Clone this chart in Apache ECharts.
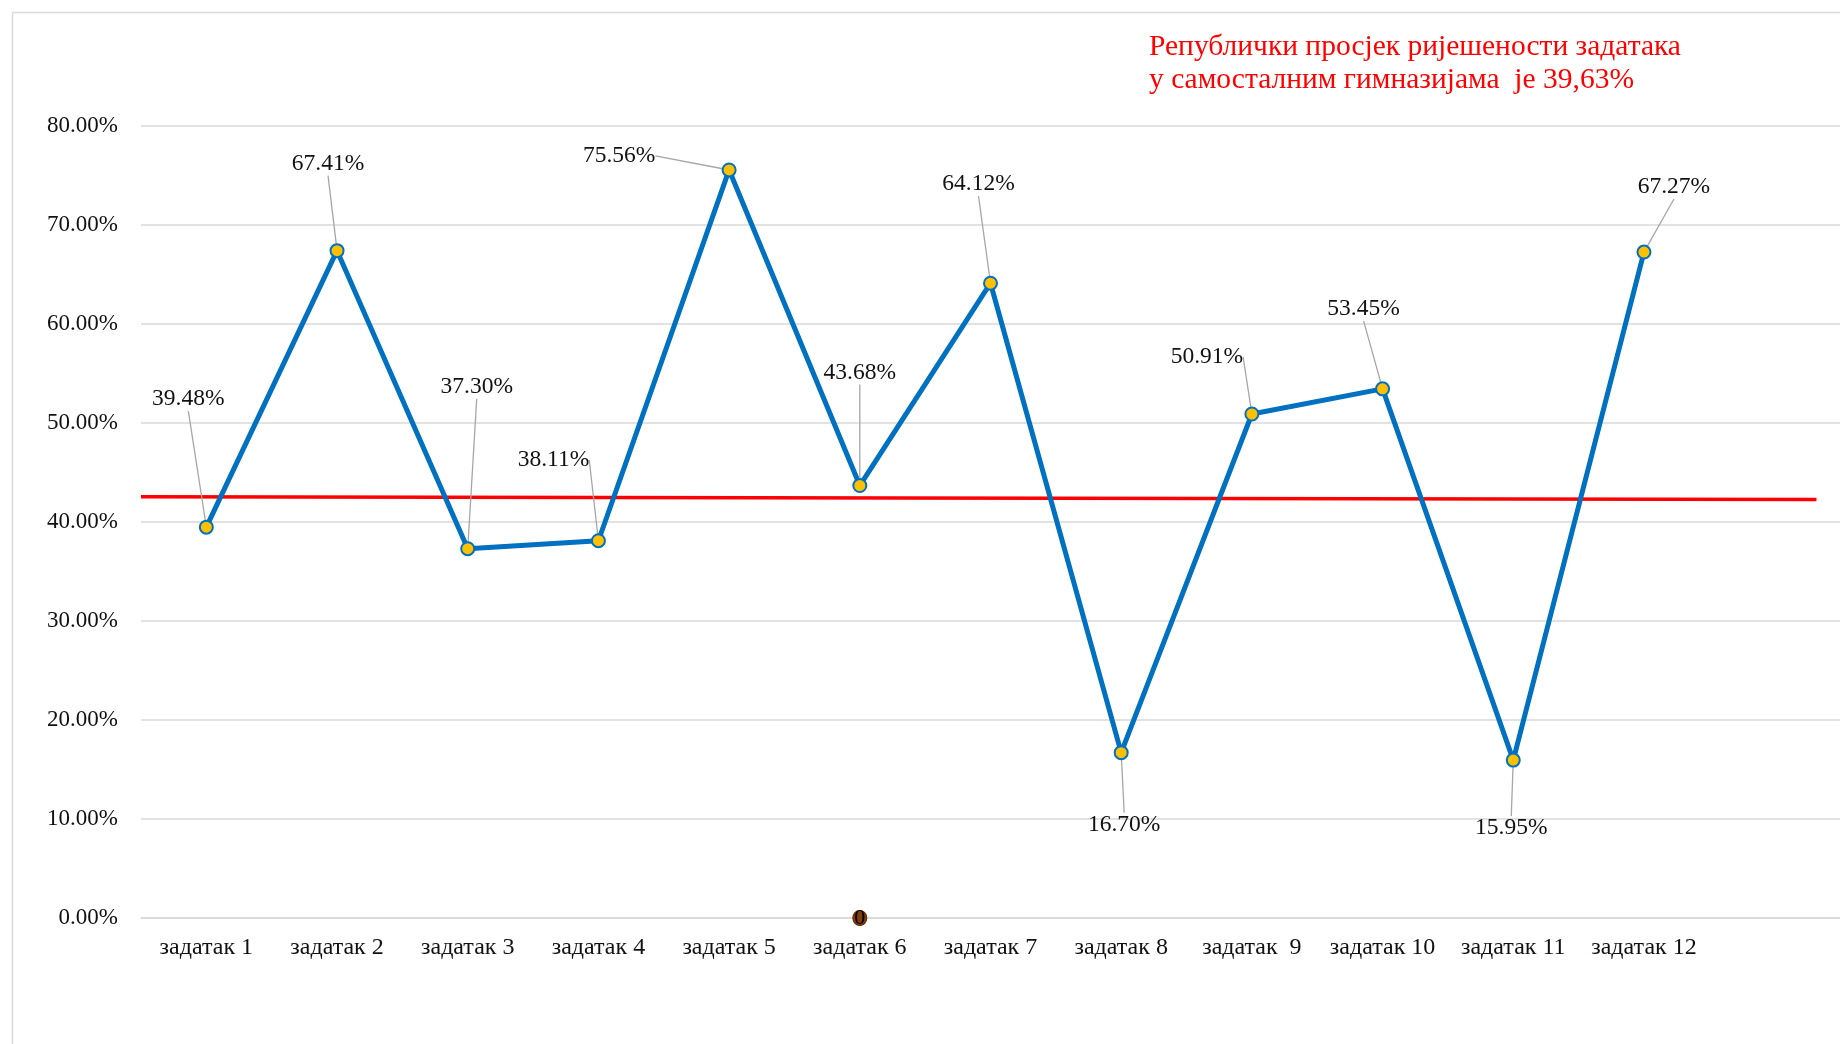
<!DOCTYPE html>
<html>
<head>
<meta charset="utf-8">
<script src="https://cdn.jsdelivr.net/npm/echarts@6/dist/echarts.min.js"></script>
<style>
html,body{margin:0;padding:0;background:#fff;}
#c{width:1840px;height:1044px;}
</style>
</head>
<body>
<div id="c"></div>
<script>
// ---- data ----
const categories = ['задатак 1','задатак 2','задатак 3','задатак 4','задатак 5','задатак 6','задатак 7','задатак 8','задатак  9','задатак 10','задатак 11','задатак 12',''];
const taskValues = [39.48, 67.41, 37.30, 38.11, 75.56, 43.68, 64.12, 16.70, 50.91, 53.45, 15.95, 67.27];
const zeroSeries = [null, null, null, null, null, 0, null, null, null, null, null, null];
const averageLineX = [0, 12.82];
const averageLineY = [42.54, 42.28];
const yTicks = [0, 10, 20, 30, 40, 50, 60, 70, 80];
const titleText = 'Републички просјек ријешености задатака\nу самосталним гимназијама  је 39,63%';

// ---- label placement (style only) ----
const labelOffsets = [[-18,-128],[-9,-87],[9,-162],[-45,-81],[-110,-14],[0,-113],[-12,-99],[3,72],[-45,-57],[-19,-80],[-2,68],[30,-65]];

const FONT = '"Liberation Serif","Times New Roman",serif';
const chart = echarts.init(document.getElementById('c'));
chart.setOption({
  animation: false,
  backgroundColor: '#fff',
  graphic: [{
    type: 'rect', left: 10, top: 10, z: -10,
    shape: {width: 2000, height: 2000},
    style: {fill: 'none', stroke: '#D9D9D9', lineWidth: 1.5}
  }],
  title: {
    text: titleText, left: 1144, top: 26,
    textStyle: {color: '#FF0000', fontFamily: FONT, fontSize: 29.5, fontWeight: 'normal', lineHeight: 33}
  },
  grid: {left: 141, right: 0, top: 126, bottom: 126, containLabel: false},
  xAxis: [{
    type: 'category', data: categories, boundaryGap: true,
    axisLine: {show: true, lineStyle: {color: '#D9D9D9', width: 1.5}},
    axisTick: {show: false},
    axisLabel: {fontFamily: FONT, fontSize: 24, color: '#111', margin: 18, interval: 0}
  }, {
    type: 'value', min: 0, max: 13, show: false
  }],
  yAxis: {
    type: 'value', min: yTicks[0], max: yTicks[yTicks.length-1], interval: 10,
    axisLine: {show: false}, axisTick: {show: false},
    splitLine: {lineStyle: {color: '#D9D9D9', width: 1.5}},
    axisLabel: {fontFamily: FONT, fontSize: 23, color: '#111', margin: 23,
      formatter: v => v.toFixed(2) + '%'}
  },
  series: [{
    type: 'line', data: taskValues, xAxisIndex: 0, z: 5,
    lineStyle: {color: '#0070C0', width: 5},
    symbol: 'circle', symbolSize: 13,
    itemStyle: {color: '#FFC000', borderColor: '#0070C0', borderWidth: 2},
    label: {show: true, position: 'inside', fontFamily: FONT, fontSize: 23.5, color: '#111',
      formatter: p => p.value.toFixed(2) + '%'},
    labelLine: {show: true, smooth: false, length2: 0, lineStyle: {color: '#A6A6A6', width: 1.3}},
    labelLayout: p => ({dx: labelOffsets[p.dataIndex][0], dy: labelOffsets[p.dataIndex][1], hideOverlap: false, moveOverlap: null})
  }, {
    type: 'line', data: averageLineX.map((x, i) => [x, averageLineY[i]]),
    xAxisIndex: 1, symbol: 'none', z: 4, clip: false,
    lineStyle: {color: '#FF0000', width: 3.5}
  }, {
    type: 'line', data: zeroSeries, xAxisIndex: 0, z: 6,
    lineStyle: {width: 0}, symbol: 'circle', symbolSize: [14, 15],
    itemStyle: {color: '#843C0C', borderColor: '#5a2a08', borderWidth: 1},
    label: {show: true, position: 'inside', fontFamily: FONT, fontSize: 22, color: '#000',
      formatter: p => String(p.value)}
  }]
});
</script>
</body>
</html>
